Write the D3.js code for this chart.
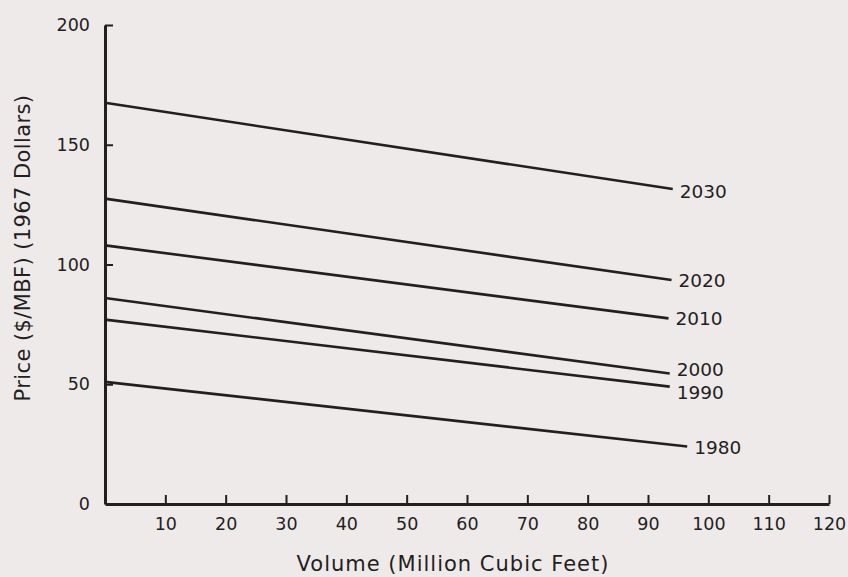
<!DOCTYPE html>
<html>
<head>
<meta charset="utf-8">
<script src="https://cdn.jsdelivr.net/npm/d3@7"></script>
<style>
  body { margin: 0; background: #eeeaea; }
  svg text { font-family: "DejaVu Sans", sans-serif; fill: #231f20; }
</style>
</head>
<body>
<svg id="chart" width="848" height="577"></svg>
<script>
// demand curves, one per year: price at zero volume and at the end of the line
var years = [1980, 1990, 2000, 2010, 2020, 2030];
var startPrice = [51, 77, 86, 108, 127.5, 167.5];
var endVolume = [96.5, 93.6, 93.6, 93.4, 93.9, 94.1];
var endPrice = [24, 49, 54.5, 77.5, 93.5, 131.5];
var xTicks = [10, 20, 30, 40, 50, 60, 70, 80, 90, 100, 110, 120];
var yTicks = [0, 50, 100, 150, 200];

var svg = d3.select("#chart");
var ink = "#231f20";

var x = d3.scaleLinear().domain([0, 120]).range([105, 829]);
var y = d3.scaleLinear().domain([0, 200]).range([504, 25]);

// axes, ticks pointing inward like the original
var xAxis = d3.axisBottom(x)
	.tickValues(xTicks)
	.tickSizeInner(-9)
	.tickSizeOuter(0)
	.tickPadding(14);
var yAxis = d3.axisLeft(y)
	.tickValues(yTicks)
	.tickSizeInner(-8)
	.tickSizeOuter(0)
	.tickPadding(15);

var gx = svg.append("g")
	.attr("transform", "translate(0," + y(0) + ")")
	.call(xAxis);
var gy = svg.append("g")
	.attr("transform", "translate(" + x(0) + ",0)")
	.call(yAxis);

[gx, gy].forEach(function(g){
	g.select(".domain").attr("stroke", ink).attr("stroke-width", 3);
	g.selectAll(".tick line").attr("stroke", ink).attr("stroke-width", 2);
	g.selectAll(".tick text")
		.attr("fill", ink)
		.style("font-size", "17.5px")
		.style("font-family", "DejaVu Sans, sans-serif");
});
// the zero tick sits on the x axis
gy.selectAll(".tick line").filter(function(d){ return d == 0; }).remove();

// lines
var lines = years.map(function(yr, i){
	return {year: yr, pts: [[0, startPrice[i]], [endVolume[i], endPrice[i]]]};
});
var line = d3.line()
	.x(function(p){ return x(p[0]); })
	.y(function(p){ return y(p[1]); });

svg.append("g").selectAll("path")
	.data(lines)
	.enter().append("path")
	.attr("d", function(d){ return line(d.pts); })
	.attr("fill", "none")
	.attr("stroke", ink)
	.attr("stroke-width", 2.6);

// year labels at the line ends (2000 / 1990 pushed apart)
var nudge = {1980: 1, 1990: 6, 2000: -4, 2010: 0, 2020: 0, 2030: 2};
svg.append("g").selectAll("text")
	.data(lines)
	.enter().append("text")
	.attr("x", function(d){ return x(d.pts[1][0]) + 7; })
	.attr("y", function(d){ return y(d.pts[1][1]) + nudge[d.year]; })
	.attr("dy", "0.36em")
	.style("font-size", "18.5px")
	.text(function(d){ return d.year; });

// axis titles
svg.append("text")
	.attr("x", 453)
	.attr("y", 571)
	.attr("text-anchor", "middle")
	.style("font-size", "21px")
	.style("letter-spacing", "1px")
	.text("Volume (Million Cubic Feet)");

svg.append("text")
	.attr("transform", "translate(30,248) rotate(-90)")
	.attr("text-anchor", "middle")
	.style("font-size", "21px")
	.style("letter-spacing", "0.4px")
	.text("Price ($/MBF) (1967 Dollars)");
</script>
</body>
</html>
